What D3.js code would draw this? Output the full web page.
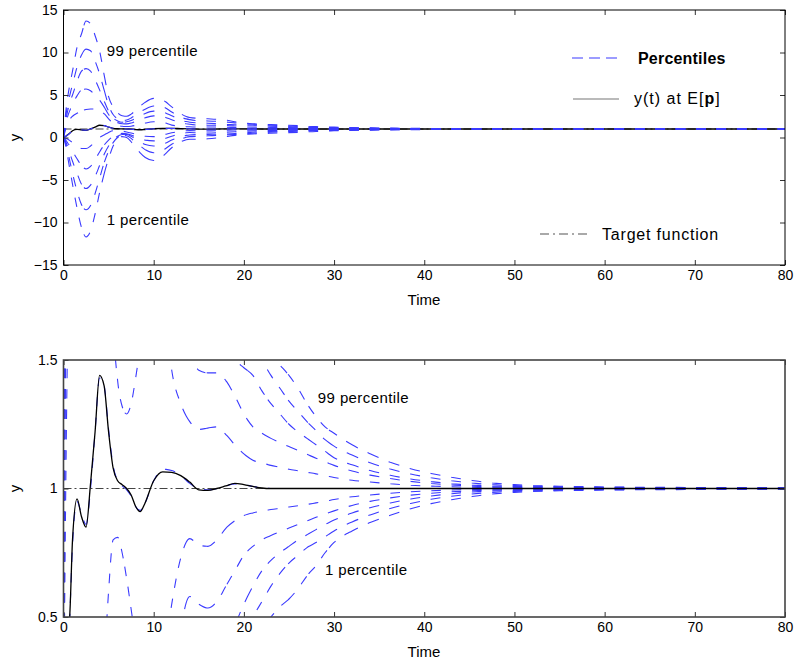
<!DOCTYPE html>
<html>
<head>
<meta charset="utf-8">
<script src="https://cdn.jsdelivr.net/npm/d3@7/dist/d3.min.js"></script>
<style>
  body { margin: 0; background: #fff; }
  text { font-family: "Liberation Sans", Arial, Helvetica, sans-serif; fill: #000; }
</style>
</head>
<body>
<div class="canva"></div>
<script>
// time samples (s)
const times = [0, 0.25, 0.5, 0.75, 1,
  1.5, 2, 2.5, 3, 3.5, 4, 4.5, 5, 5.5, 6,
  6.5, 7, 7.5, 8, 8.5, 9,
  10, 11, 12, 13, 14, 15, 16, 17, 18, 19, 20,
  21, 22, 23, 24, 25, 26, 27, 28, 29, 30,
  32, 34, 36, 38, 40, 42, 44, 46, 48, 50,
  52, 55, 60, 70, 80];

// percentile curves
const p99 = [0, 3.0, 5.0, 6.5, 7.8,
  10.6, 12.2, 13.7, 13.4, 12.0, 10.2, 7.4, 4.8, 3.6, 2.9,
  2.55, 2.5, 2.75, 3.2, 3.7, 4.1,
  4.6, 4.4, 3.6, 2.8, 2.35, 2.25, 2.2, 2.15, 2.05, 1.85, 1.7,
  1.62, 1.57, 1.52, 1.48, 1.44, 1.39, 1.33, 1.28, 1.24, 1.215,
  1.17, 1.135, 1.105, 1.082, 1.064, 1.05, 1.038, 1.028, 1.02, 1.015,
  1.012, 1.009, 1.006, 1.004, 1.003];
const p95 = [0, 2.5, 4.0, 5.2, 6.2,
  8.3, 9.7, 10.4, 10.2, 9.0, 7.5, 5.6, 3.8, 2.7, 2.2,
  2.0, 2.05, 2.3, 2.65, 3.0, 3.3,
  3.7, 3.6, 3.0, 2.4, 2.1, 1.98, 1.95, 1.9, 1.82, 1.72, 1.63,
  1.56, 1.5, 1.44, 1.39, 1.34, 1.3, 1.26, 1.225, 1.19, 1.165,
  1.13, 1.1, 1.078, 1.06, 1.046, 1.035, 1.026, 1.019, 1.014, 1.011,
  1.009, 1.007, 1.005, 1.003, 1.002];
const p90 = [0, 2.0, 3.3, 4.3, 5.0,
  6.6, 7.8, 8.1, 7.8, 6.8, 5.6, 4.3, 3.1, 2.3, 1.95,
  1.8, 1.85, 2.0, 2.25, 2.55, 2.8,
  3.1, 3.0, 2.55, 2.05, 1.8, 1.72, 1.68, 1.62, 1.55, 1.5, 1.47,
  1.44, 1.38, 1.33, 1.29, 1.25, 1.22, 1.195, 1.17, 1.145, 1.12,
  1.092, 1.07, 1.053, 1.04, 1.03, 1.022, 1.016, 1.012, 1.009, 1.008,
  1.007, 1.005, 1.004, 1.002, 1.0015];
const p75 = [0, 1.6, 2.6, 3.3, 3.9,
  4.9, 5.6, 5.7, 5.5, 5.0, 4.4, 3.6, 2.7, 2.05, 1.75,
  1.62, 1.6, 1.7, 1.9, 2.1, 2.3,
  2.55, 2.45, 2.1, 1.75, 1.55, 1.46, 1.45, 1.45, 1.42, 1.36, 1.29,
  1.24, 1.215, 1.195, 1.178, 1.163, 1.148, 1.133, 1.118, 1.104, 1.09,
  1.068, 1.052, 1.04, 1.03, 1.022, 1.016, 1.012, 1.008, 1.006, 1.005,
  1.004, 1.003, 1.002, 1.0015, 1.001];
const p60 = [0, 1.0, 1.7, 2.2, 2.5,
  2.85, 3.1, 3.3, 3.35, 3.35, 3.2, 2.8, 2.2, 1.65, 1.42,
  1.32, 1.29, 1.33, 1.43, 1.55, 1.68,
  1.85, 1.78, 1.46, 1.33, 1.26, 1.23, 1.235, 1.24, 1.21, 1.17, 1.135,
  1.11, 1.1, 1.09, 1.083, 1.075, 1.069, 1.063, 1.057, 1.05, 1.043,
  1.032, 1.025, 1.019, 1.014, 1.01, 1.008, 1.006, 1.004, 1.003, 1.0025,
  1.002, 1.0015, 1.001, 1.0005, 1.0005];
const p50 = [0, 0.12, 0.32, 0.55, 0.78,
  0.95, 0.9, 0.86, 1.0, 1.22, 1.43, 1.4, 1.23, 1.09, 1.03,
  1.01, 0.995, 0.97, 0.93, 0.915, 0.94,
  1.03, 1.075, 1.07, 1.05, 1.02, 0.998, 0.995, 1.0, 1.01, 1.018, 1.015,
  1.008, 1.003, 1, 1, 1, 1, 1, 1, 1, 1,
  1, 1, 1, 1, 1, 1, 1, 1, 1, 1,
  1, 1, 1, 1, 1];
const p40 = [0, -0.1, -0.2, -0.4, -0.6,
  -1.0, -1.3, -1.3, -1.0, -0.5, 0.0, 0.3, 0.6, 0.8, 0.81,
  0.75, 0.65, 0.53, 0.4, 0.25, 0.15,
  0.1, 0.3, 0.55, 0.73, 0.805, 0.78, 0.775, 0.8, 0.845, 0.875, 0.895,
  0.905, 0.912, 0.918, 0.923, 0.928, 0.933, 0.938, 0.944, 0.95, 0.957,
  0.968, 0.975, 0.981, 0.986, 0.99, 0.993, 0.995, 0.996, 0.997, 0.9975,
  0.998, 0.9985, 0.999, 0.9995, 0.9995];
const p25 = [0, -0.3, -0.7, -1.1, -1.6,
  -2.5, -3.3, -3.7, -3.4, -2.6, -1.7, -0.9, -0.3, 0.15, 0.4,
  0.48, 0.45, 0.3, 0.05, -0.15, -0.3,
  -0.4, -0.2, 0.15, 0.45, 0.58, 0.55, 0.535, 0.56, 0.62, 0.68, 0.74,
  0.775, 0.8, 0.817, 0.832, 0.846, 0.86, 0.874, 0.888, 0.901, 0.913,
  0.934, 0.95, 0.962, 0.972, 0.979, 0.985, 0.989, 0.992, 0.994, 0.995,
  0.996, 0.997, 0.998, 0.9985, 0.999];
const p10 = [0, -0.5, -1.2, -2.0, -2.8,
  -4.2, -5.5, -6.0, -5.6, -4.6, -3.3, -2.0, -1.0, -0.3, 0.15,
  0.35, 0.35, 0.15, -0.2, -0.5, -0.8,
  -1.0, -0.8, -0.3, 0.1, 0.3, 0.35, 0.37, 0.38, 0.41, 0.47, 0.55,
  0.62, 0.68, 0.72, 0.75, 0.775, 0.8, 0.82, 0.84, 0.86, 0.877,
  0.905, 0.925, 0.942, 0.956, 0.967, 0.976, 0.983, 0.988, 0.991, 0.992,
  0.993, 0.995, 0.996, 0.998, 0.9985];
const p05 = [0, -0.7, -1.8, -3.0, -4.2,
  -6.3, -7.9, -8.5, -8.0, -6.6, -4.8, -3.0, -1.6, -0.6, 0.0,
  0.25, 0.2, -0.1, -0.6, -1.0, -1.4,
  -1.8, -1.5, -0.8, -0.2, 0.1, 0.15, 0.2, 0.25, 0.3, 0.36, 0.43,
  0.5, 0.56, 0.62, 0.67, 0.71, 0.74, 0.77, 0.79, 0.812, 0.835,
  0.87, 0.897, 0.92, 0.938, 0.953, 0.965, 0.974, 0.981, 0.986, 0.989,
  0.991, 0.993, 0.995, 0.997, 0.998];
const p01 = [0, -1.0, -2.5, -4.0, -5.5,
  -8.3, -10.6, -11.7, -11.0, -9.0, -6.5, -4.3, -2.5, -1.0, -0.2,
  0.1, 0.0, -0.5, -1.2, -1.8, -2.3,
  -2.7, -2.2, -1.2, -0.5, -0.2, -0.2, -0.15, -0.05, 0.1, 0.25, 0.35,
  0.42, 0.46, 0.5, 0.54, 0.57, 0.61, 0.66, 0.7, 0.75, 0.79,
  0.835, 0.868, 0.893, 0.916, 0.935, 0.95, 0.962, 0.972, 0.98, 0.985,
  0.988, 0.991, 0.994, 0.996, 0.997];

// y(t) at E[p]
const yMean = [0, 0.15, 0.35, 0.55, 0.8,
  0.96, 0.89, 0.85, 1.02, 1.22, 1.44, 1.4, 1.22, 1.08, 1.03,
  1.015, 1.0, 0.975, 0.93, 0.91, 0.94,
  1.03, 1.065, 1.063, 1.05, 1.025, 0.995, 0.993, 1.0, 1.01, 1.02, 1.015,
  1.008, 1.002, 1, 1, 1, 1, 1, 1, 1, 1,
  1, 1, 1, 1, 1, 1, 1, 1, 1, 1,
  1, 1, 1, 1, 1];

// target function
const targetTimes = [0, 80];
const targetValues = [1, 1];

const percentiles = [p01, p05, p10, p25, p40, p50, p60, p75, p90, p95, p99];

const xTicks = [0, 10, 20, 30, 40, 50, 60, 70, 80];
const topTicks = [-15, -10, -5, 0, 5, 10, 15];
const bottomTicks = [0.5, 1, 1.5];

const blue = "#3a3aff";

const svg = d3.select(".canva").append("svg")
  .attr("width", 796)
  .attr("height", 664);

const x = d3.scaleLinear().domain([0, 80]).range([63.5, 785]);

const panels = [
  { id: "top", y: d3.scaleLinear().domain([-15, 15]).range([265, 10]),
    ticks: topTicks, frame: "#000", frameW: 1, blueOnTop: true,
    timeY: 305, labelUp: { t: 4.8, v: 9.6 }, labelDown: { t: 4.8, v: -10.3 } },
  { id: "bottom", y: d3.scaleLinear().domain([0.5, 1.5]).range([617, 360]),
    ticks: bottomTicks, frame: "#444", frameW: 1.6, blueOnTop: false,
    timeY: 657, labelUp: { t: 28.2, v: 1.331 }, labelDown: { t: 29, v: 0.662 } }
];

// dash pattern restarted at fixed x steps, like the printed original
function stripDash(node, x0, period, dash) {
  const total = node.getTotalLength();
  const xAt = l => node.getPointAtLength(l).x;
  const bounds = [0];
  for (let bx = x0 + period; bx < 785; bx += period) {
    let lo = bounds[bounds.length - 1], hi = total;
    if (xAt(hi) <= bx) break;
    for (let i = 0; i < 24; i++) {
      const mid = (lo + hi) / 2;
      if (xAt(mid) < bx) lo = mid; else hi = mid;
    }
    bounds.push((lo + hi) / 2);
  }
  bounds.push(total);
  const arr = [];
  for (let k = 0; k < bounds.length - 1; k++) {
    const s = bounds[k + 1] - bounds[k];
    let pos = 0;
    while (pos < s - 1e-6) {
      const d = Math.min(dash, s - pos); pos += d;
      const g = Math.min(period - dash, s - pos); pos += g;
      arr.push(d.toFixed(2), g.toFixed(2));
    }
  }
  return arr.join(",");
}

panels.forEach(function(p) {
  const y = p.y;
  const y0 = y.range()[1], y1 = y.range()[0];
  const g = svg.append("g").attr("class", p.id);

  g.append("clipPath").attr("id", "clip-" + p.id)
    .append("rect")
    .attr("x", x.range()[0]).attr("y", y0)
    .attr("width", x.range()[1] - x.range()[0])
    .attr("height", y1 - y0);

  const plot = g.append("g").attr("clip-path", `url(#clip-${p.id})`);

  const line = d3.line()
    .x((d, i) => x(times[i]))
    .y(d => y(d))
    .curve(d3.curveMonotoneX);

  function drawPercentiles() {
    plot.selectAll("path.pct")
      .data(percentiles)
      .enter()
      .append("path")
      .attr("class", "pct")
      .attr("d", line)
      .attr("fill", "none")
      .attr("stroke", blue)
      .attr("stroke-width", 1.1)
      .each(function() {
        d3.select(this).attr("stroke-dasharray", stripDash(this, 63.5, 20.4, 9.5));
      });
  }
  function drawTarget() {
    plot.append("path")
      .attr("d", d3.line().x((d, i) => x(targetTimes[i])).y(d => y(d))(targetValues))
      .attr("fill", "none")
      .attr("stroke", "#444")
      .attr("stroke-width", 1.1)
      .attr("stroke-dasharray", "8,3,2,3");
  }
  function drawMean() {
    plot.append("path")
      .attr("d", line(yMean))
      .attr("fill", "none")
      .attr("stroke", "#000")
      .attr("stroke-width", 1.3);
  }

  if (p.blueOnTop) { drawTarget(); drawMean(); drawPercentiles(); }
  else { drawPercentiles(); drawTarget(); drawMean(); }

  // axes: ticks inside on all four sides
  const left = g.append("g").attr("transform", `translate(${x.range()[0]},0)`)
    .call(d3.axisLeft(y).tickValues(p.ticks).tickFormat(d3.format(""))
      .tickSizeInner(-5).tickSizeOuter(0).tickPadding(6));
  const right = g.append("g").attr("transform", `translate(${x.range()[1]},0)`)
    .call(d3.axisRight(y).tickValues(p.ticks).tickFormat("")
      .tickSizeInner(-5).tickSizeOuter(0));
  const bottom = g.append("g").attr("transform", `translate(0,${y1})`)
    .call(d3.axisBottom(x).tickValues(xTicks).tickFormat(d3.format(""))
      .tickSizeInner(-5).tickSizeOuter(0).tickPadding(5));
  const top = g.append("g").attr("transform", `translate(0,${y0})`)
    .call(d3.axisTop(x).tickValues(xTicks).tickFormat("")
      .tickSizeInner(-5).tickSizeOuter(0));

  [left, right, bottom, top].forEach(a => {
    a.select(".domain").remove();
    a.selectAll("line").attr("stroke", "#333");
    a.selectAll("text").attr("font-size", 14)
      .attr("font-family", "Liberation Sans, Arial, sans-serif");
  });

  g.append("rect")
    .attr("x", x.range()[0]).attr("y", y0)
    .attr("width", x.range()[1] - x.range()[0])
    .attr("height", y1 - y0)
    .attr("fill", "none")
    .attr("stroke", p.frame)
    .attr("stroke-width", p.frameW);

  g.append("text")
    .attr("x", 424).attr("y", p.timeY)
    .attr("text-anchor", "middle")
    .attr("font-size", 15)
    .text("Time");

  g.append("text")
    .attr("transform", `translate(20,${(y0 + y1) / 2}) rotate(-90)`)
    .attr("text-anchor", "middle")
    .attr("font-size", 15)
    .text("y");

  g.append("text")
    .attr("x", x(p.labelUp.t)).attr("y", y(p.labelUp.v))
    .attr("font-size", 15)
    .attr("letter-spacing", 0.4)
    .text("99 percentile");
  g.append("text")
    .attr("x", x(p.labelDown.t)).attr("y", y(p.labelDown.v))
    .attr("font-size", 15)
    .attr("letter-spacing", 0.4)
    .text("1 percentile");
});

// legend in the upper panel
const legend = svg.append("g").attr("class", "legend");
legend.append("line")
  .attr("x1", 572).attr("x2", 619).attr("y1", 58).attr("y2", 58)
  .attr("stroke", blue).attr("stroke-width", 1.1)
  .attr("stroke-dasharray", "11,6");
legend.append("text")
  .attr("x", 638).attr("y", 64)
  .attr("font-size", 16).attr("font-weight", "bold")
  .attr("letter-spacing", 0.2)
  .text("Percentiles");

legend.append("line")
  .attr("x1", 573).attr("x2", 619).attr("y1", 99).attr("y2", 99)
  .attr("stroke", "#777").attr("stroke-width", 1.2);
const yt = legend.append("text")
  .attr("x", 634).attr("y", 104)
  .attr("font-size", 16)
  .attr("letter-spacing", 1);
yt.append("tspan").text("y(t) at E[");
yt.append("tspan").attr("font-weight", "bold").text("p");
yt.append("tspan").text("]");

legend.append("line")
  .attr("x1", 540).attr("x2", 590).attr("y1", 234).attr("y2", 234)
  .attr("stroke", "#555").attr("stroke-width", 1.1)
  .attr("stroke-dasharray", "9,4,2,4");
legend.append("text")
  .attr("x", 602).attr("y", 240)
  .attr("font-size", 16)
  .attr("letter-spacing", 0.8)
  .text("Target function");
</script>
</body>
</html>
